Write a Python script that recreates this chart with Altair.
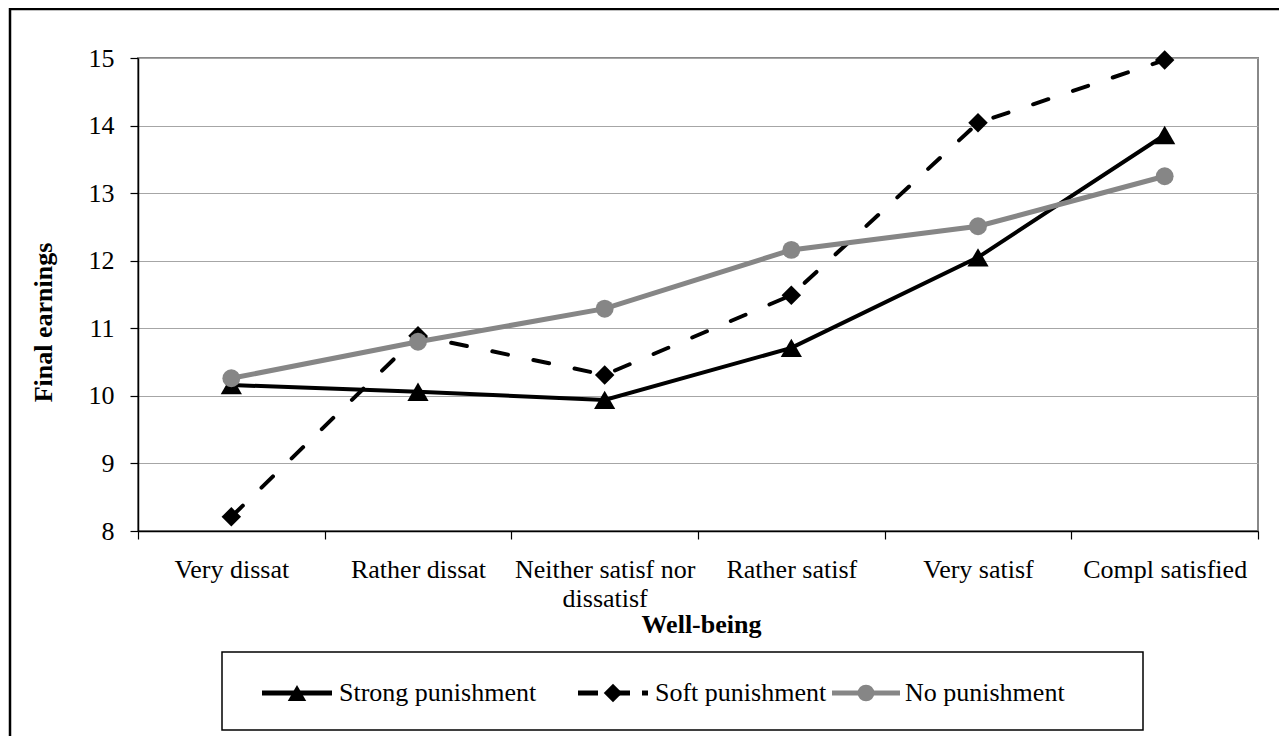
import altair as alt
import pandas as pd

# ---- data ----
categories = ["Very dissat", "Rather dissat", "Neither satisf nor dissatisf",
              "Rather satisf", "Very satisf", "Compl satisfied"]
strong_values = [10.16, 10.06, 9.94, 10.71, 12.05, 13.86]
soft_values = [8.21, 10.89, 10.31, 11.49, 14.04, 14.97]
none_values = [10.26, 10.80, 11.29, 12.16, 12.51, 13.25]
series_names = ["Strong punishment", "Soft punishment", "No punishment"]
y_ticks = [8, 9, 10, 11, 12, 13, 14, 15]

W, H = 1120, 473
FONT = "'Times New Roman', 'Liberation Serif', Times, 'DejaVu Serif', serif"
GRAY = "#868686"


def frame(vals, name):
    return pd.DataFrame({"cat": categories, "value": vals, "series": name})


x_enc = alt.X(
    "cat:N", sort=categories, bandPosition=0.5,
    scale=alt.Scale(type="band", paddingInner=0, paddingOuter=0),
    axis=alt.Axis(
        title="Well-being", tickBand="extent", tickSize=8, labelPadding=17,
        labelAngle=0, labelLineHeight=29, labelLimit=400, labelOverlap=False,
        labelFlush=False, labelBaseline="top",
        labelExpr="datum.label == 'Neither satisf nor dissatisf' ? ['Neither satisf nor', 'dissatisf'] : datum.label",
        titleX=563, titleY=101, titleBaseline="alphabetic", titleAlign="center",
        titleAnchor="middle", grid=False,
    ),
)
y_enc = alt.Y(
    "value:Q",
    scale=alt.Scale(domain=[8, 15], nice=False, zero=False),
    axis=alt.Axis(
        title="Final earnings", values=y_ticks, tickSize=8, labelPadding=16,
        grid=True, titleX=-87, titleY=264, titleAngle=270,
        titleBaseline="alphabetic", titleAlign="center", titleAnchor="middle",
    ),
)

d_strong = frame(strong_values, series_names[0])
d_soft = frame(soft_values, series_names[1])
d_none = frame(none_values, series_names[2])

strong_line = alt.Chart(d_strong).mark_line(color="black", strokeWidth=4).encode(x=x_enc, y=y_enc)
strong_pts = alt.Chart(d_strong).mark_point(shape="triangle-up", filled=True, size=450,
                                            color="black", opacity=1).encode(x=x_enc, y=y_enc)
soft_line = alt.Chart(d_soft).mark_line(color="black", strokeWidth=4, strokeDash=[16, 26],
                                        strokeCap="round").encode(x=x_enc, y=y_enc)
soft_pts = alt.Chart(d_soft).mark_point(shape="diamond", filled=True, size=380,
                                        color="black", opacity=1).encode(x=x_enc, y=y_enc)
none_line = alt.Chart(d_none).mark_line(color=GRAY, strokeWidth=5).encode(x=x_enc, y=y_enc)
none_pts = alt.Chart(d_none).mark_point(shape="circle", filled=True, size=320,
                                        color=GRAY, opacity=1).encode(x=x_enc, y=y_enc)

one = pd.DataFrame({"k": [0]})

outer_frame = alt.Chart(one).mark_rect(fill="white", fillOpacity=0, stroke="black",
                                       strokeWidth=2.5).encode(
    x=alt.value(-128), x2=alt.value(W + 60), y=alt.value(-49), y2=alt.value(H + 260))

legend_box = alt.Chart(one).mark_rect(fill="white", stroke="black", strokeWidth=1.5).encode(
    x=alt.value(84), x2=alt.value(1005), y=alt.value(594), y2=alt.value(672))

LY = 635
legend_layers = []
specs = [
    (series_names[0], 124, 194, 159, 201, "black", "triangle-up", 340, None),
    (series_names[1], 440, 510, 475, 517, "black", "diamond", 340, [20, 12]),
    (series_names[2], 694, 762, 728, 767, GRAY, "circle", 280, None),
]
for name, x0, x1, xm, xt, col, shp, sz, dash in specs:
    dn = pd.DataFrame({"series": [name]})
    rule_kw = dict(color=col, strokeWidth=5)
    if dash:
        rule_kw["strokeDash"] = dash
    legend_layers.append(alt.Chart(dn).mark_rule(**rule_kw).encode(
        x=alt.value(x0), x2=alt.value(x1), y=alt.value(LY)))
    legend_layers.append(alt.Chart(dn).mark_point(shape=shp, filled=True, size=sz, color=col,
                                                  opacity=1).encode(
        x=alt.value(xm), y=alt.value(LY)))
    legend_layers.append(alt.Chart(dn).mark_text(align="left", baseline="alphabetic",
                                                 font=FONT, fontSize=26, color="black").encode(
        x=alt.value(xt), y=alt.value(LY + 8), text="series:N"))

chart = alt.layer(
    outer_frame,
    strong_line, strong_pts, soft_line, soft_pts, none_line, none_pts,
    legend_box, *legend_layers,
).properties(
    width=W, height=H,
    autosize=alt.AutoSizeParams(type="none"),
    padding={"left": 130, "top": 50, "right": 21, "bottom": 205},
    background="white",
).configure_view(
    stroke="#888888", strokeWidth=2,
).configure_axis(
    labelFont=FONT, labelFontSize=26, labelColor="black",
    titleFont=FONT, titleFontSize=26, titleFontWeight="bold", titleColor="black",
    domainColor="black", domainWidth=1.5, tickColor="black", tickWidth=1.2,
    gridColor="#a6a6a6", gridWidth=1.2,
)

chart.save("out.html", embed_options={"renderer": "svg", "actions": False})
